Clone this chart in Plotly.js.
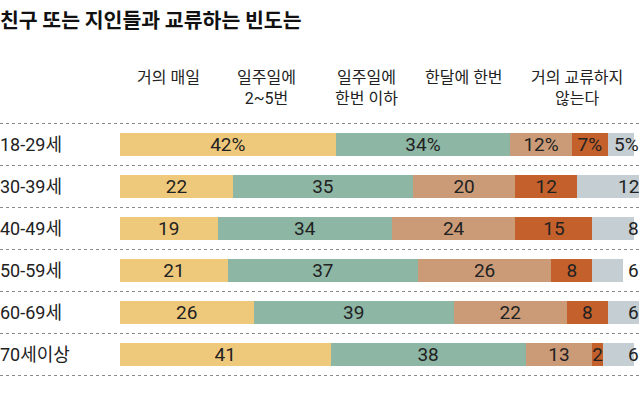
<!DOCTYPE html>
<html>
<head>
<meta charset="utf-8">
<script src="https://cdn.plot.ly/plotly-3.0.1.min.js"></script>
<style>html,body{margin:0;padding:0;background:#fff;}#chart{width:640px;height:393px;}</style>
</head>
<body>
<div id="chart"></div>
<script>
var categories = ['18-29세', '30-39세', '40-49세', '50-59세', '60-69세', '70세이상'];
var seriesNames = ['거의 매일', '일주일에<br>2~5번', '일주일에<br>한번 이하', '한달에 한번', '거의 교류하지<br>않는다'];
var daily      = [42, 22, 19, 21, 26, 41];
var weekly2to5 = [34, 35, 34, 37, 39, 38];
var weekly1    = [12, 20, 24, 26, 22, 13];
var monthly    = [7, 12, 15, 8, 8, 2];
var rarely     = [5, 12, 8, 6, 6, 6];
var colors = ['#EFC97B', '#8DB6A4', '#CB9B77', '#C4602B', '#C5CED3'];
var headerX = [168, 266, 366, 464, 577];

var FONT = 'Roboto, "Noto Sans CJK KR", sans-serif';
var KFONT = '"Noto Sans CJK KR", "Noto Sans", sans-serif';
var allSeries = [daily, weekly2to5, weekly1, monthly, rarely];
var L = 120, W = 520;

var traces = allSeries.map(function (vals, si) {
  var last = si === allSeries.length - 1;
  return {
    type: 'bar',
    orientation: 'h',
    y: categories,
    x: vals,
    name: seriesNames[si],
    marker: {color: colors[si], line: {width: 0}},
    text: last ? null : vals.map(function (v, i) { return i === 0 ? v + '%' : String(v); }),
    textposition: last ? 'none' : 'inside',
    insidetextanchor: 'middle',
    textangle: 0,
    constraintext: 'none',
    textfont: {family: FONT, size: 19, color: '#222'},
    hoverinfo: 'none',
    cliponaxis: false
  };
});

var annotations = [];
categories.forEach(function (c, i) {
  annotations.push({
    xref: 'paper', yref: 'y', x: -L / W, y: c, xanchor: 'left', yanchor: 'middle',
    text: c, showarrow: false, font: {family: FONT, size: 18, color: '#222'}, xshift: -2
  });
  annotations.push({
    xref: 'paper', yref: 'y', x: 1, y: c, xanchor: 'right', yanchor: 'middle',
    text: rarely[i] + (i === 0 ? '%' : ''), showarrow: false,
    font: {family: FONT, size: 19, color: '#222'}, xshift: 1
  });
});
seriesNames.forEach(function (n, si) {
  annotations.push({
    xref: 'paper', yref: 'paper', x: (headerX[si] - L) / W, y: 1, yshift: 57,
    xanchor: 'center', yanchor: 'top', align: 'center',
    text: n, showarrow: false, font: {family: FONT, size: 16, color: '#222'}
  });
});

var shapes = [];
for (var k = 0; k <= categories.length; k++) {
  shapes.push({
    type: 'line', xref: 'paper', yref: 'y', x0: -L / W, x1: 1, y0: k - 0.5, y1: k - 0.5,
    line: {color: '#8a8a8a', width: 1, dash: 'dot'}
  });
}

var layout = {
  width: 640, height: 393,
  margin: {l: L, r: 0, t: 123, b: 17},
  paper_bgcolor: '#fff', plot_bgcolor: '#fff',
  barmode: 'stack',
  bargap: 0.47,
  showlegend: false,
  title: {
    text: '<b>친구 또는 지인들과 교류하는 빈도는</b>',
    x: 0, xref: 'container', xanchor: 'left',
    y: 0.948, yref: 'container', yanchor: 'middle',
    font: {family: KFONT, size: 20.5, color: '#111', weight: 900}
  },
  xaxis: {range: [0, W / 5.135], visible: false, fixedrange: true},
  yaxis: {autorange: 'reversed', showticklabels: false, showgrid: false, zeroline: false, showline: false, ticks: '', fixedrange: true},
  annotations: annotations,
  shapes: shapes
};

Plotly.newPlot('chart', traces, layout, {displayModeBar: false, staticPlot: true});
</script>
</body>
</html>
